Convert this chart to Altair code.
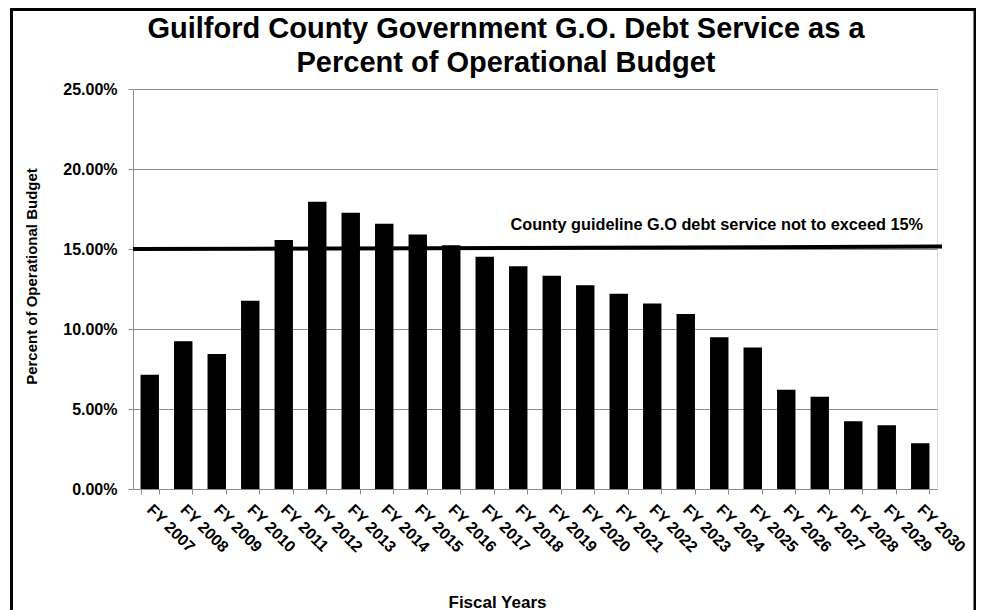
import altair as alt
import pandas as pd

# ---- data ----
years = ["FY 2007", "FY 2008", "FY 2009", "FY 2010", "FY 2011", "FY 2012",
         "FY 2013", "FY 2014", "FY 2015", "FY 2016", "FY 2017", "FY 2018",
         "FY 2019", "FY 2020", "FY 2021", "FY 2022", "FY 2023", "FY 2024",
         "FY 2025", "FY 2026", "FY 2027", "FY 2028", "FY 2029", "FY 2030"]
pct = [7.14, 9.23, 8.44, 11.77, 15.56, 17.96, 17.27, 16.58, 15.90, 15.23,
       14.52, 13.92, 13.33, 12.73, 12.21, 11.60, 10.94, 9.48, 8.85, 6.21,
       5.77, 4.23, 3.98, 2.86]
y_ticks = [0, 5, 10, 15, 20, 25]
guideline_start = 15.0
guideline_end = 15.15

title_lines = ["Guilford County Government G.O. Debt Service as a",
               "Percent of Operational Budget"]
y_title = "Percent of Operational Budget"
x_title = "Fiscal Years"
guideline_label = "County guideline G.O debt service not to exceed 15%"

FONT = "Liberation Sans"
GRAY = "#8c8c8c"
W, H = 804, 400

df = pd.DataFrame({"year": years, "pct": pct})
one = pd.DataFrame({"k": [0]})

bars = alt.Chart(df).mark_bar(color="black").encode(
    x=alt.X("year:N", sort=years,
            scale=alt.Scale(paddingInner=0.45, paddingOuter=0.225),
            axis=alt.Axis(title=x_title, labelAngle=45, labelAlign="left",
                          labelBaseline="top", labelFont=FONT,
                          labelFontSize=16, labelFontWeight="bold",
                          labelColor="black", labelOverlap=False,
                          labelBound=False, labelPadding=7, labelOffset=5,
                          tickBand="extent", tickSize=5, tickColor=GRAY,
                          domainColor=GRAY, grid=False,
                          titleFont=FONT, titleFontSize=17,
                          titleFontWeight="bold", titleColor="black",
                          titleX=364, titleY=118, titleAlign="center",
                          titleBaseline="alphabetic")),
    y=alt.Y("pct:Q", scale=alt.Scale(domain=[0, 25], nice=False),
            axis=alt.Axis(title=y_title, values=y_ticks,
                          labelExpr="format(datum.value, '.2f') + '%'",
                          labelFont=FONT, labelFontSize=16,
                          labelFontWeight="bold", labelColor="black",
                          labelPadding=11, tickSize=5, tickColor=GRAY,
                          domainColor=GRAY, grid=True, gridColor=GRAY,
                          gridWidth=1,
                          titleFont=FONT, titleFontSize=15,
                          titleFontWeight="bold", titleColor="black",
                          titleX=-102, titleY=187, titleAngle=270,
                          titleAlign="center", titleBaseline="middle")),
)

guide = alt.Chart(one).mark_rule(color="black", strokeWidth=4).encode(
    x=alt.value(0), x2=alt.value(W + 5),
    y=alt.datum(guideline_start), y2=alt.datum(guideline_end),
)

guide_text = alt.Chart(one).mark_text(
    text=guideline_label, font=FONT, fontSize=16.3, fontWeight="bold",
    align="right", baseline="alphabetic", color="black",
).encode(x=alt.value(790), y=alt.value(141))

title = alt.Chart(one).mark_text(
    text=title_lines, font=FONT, fontSize=29, fontWeight="bold",
    align="center", baseline="alphabetic", lineHeight=34, color="black",
).encode(x=alt.value(373), y=alt.value(-51))

border = alt.Chart(one).mark_rect(
    filled=False, stroke="black", strokeWidth=3,
).encode(x=alt.value(-121.5), x2=alt.value(842),
         y=alt.value(-79.5), y2=alt.value(600))

chart = alt.layer(bars, guide, guide_text, title, border).properties(
    width=W, height=H,
    autosize=alt.AutoSizeParams(type="none"),
    padding={"left": 125, "top": 81, "right": 39, "bottom": 121},
).configure_view(strokeWidth=0).configure(font=FONT)

chart.save("out.html", embed_options={"renderer": "svg", "actions": False})
